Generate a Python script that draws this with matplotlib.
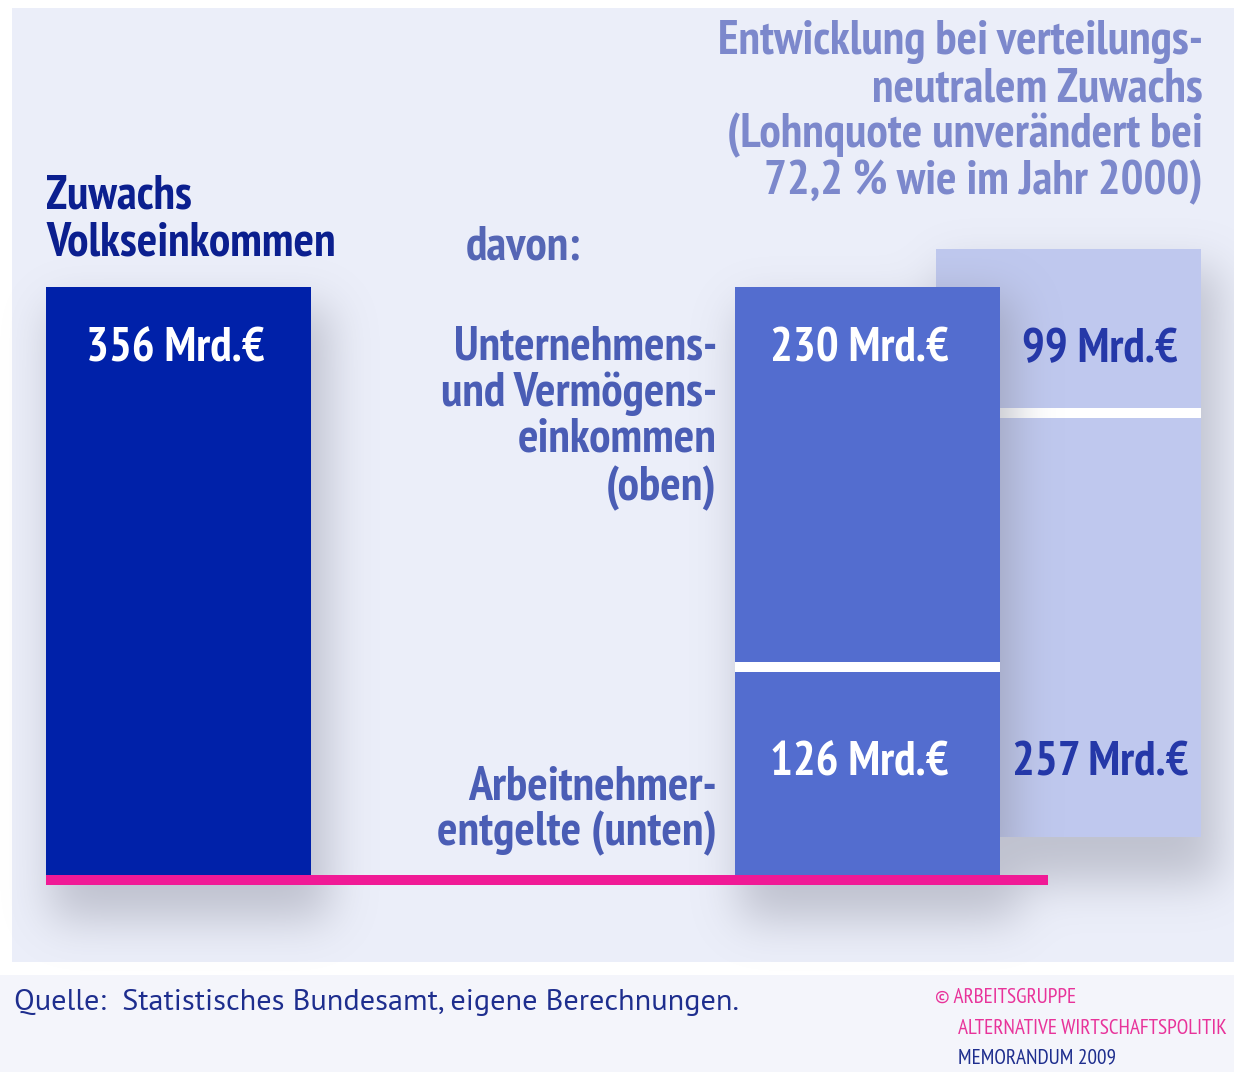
import numpy as np
import matplotlib.pyplot as plt
from matplotlib.patches import Rectangle
from matplotlib import font_manager

# Daten (Mrd. Euro)
total = 356                 # Zuwachs Volkseinkommen
actual_top = 230            # Unternehmens- und Vermögenseinkommen
actual_bottom = 126         # Arbeitnehmerentgelte
neutral_top = 99            # bei verteilungsneutralem Zuwachs
neutral_bottom = 257

W, H = 1234, 1072
SCALE = 588 / 356           # px pro Mrd.
BASE = 875                  # Pixelzeile der Grundlinie

names = {f.name for f in font_manager.fontManager.ttflist}


def pick(cands):
    for c in cands:
        if c in names:
            return c
    return 'DejaVu Sans'


narrow = pick(['PT Sans Narrow', 'Fira Sans Condensed', 'Roboto Condensed', 'Liberation Sans Narrow',
               'Liberation Sans'])
regular = pick(['PT Sans', 'Source Sans 3', 'Fira Sans', 'Liberation Sans'])

fig = plt.figure(figsize=(W / 100, H / 100), dpi=100)
fig.patch.set_facecolor('white')


def fx(x, y):
    return x / W, 1 - y / H


# Hintergrundflächen
fig.patches.append(Rectangle(fx(12, 962), (W - 12) / W, 954 / H, transform=fig.transFigure,
                             facecolor='#ebeef9', edgecolor='none', zorder=-2))
fig.patches.append(Rectangle(fx(0, H), 1, (H - 975) / H, transform=fig.transFigure,
                             facecolor='#f4f5fb', edgecolor='none', zorder=-2))

ax = fig.add_axes([0, 0, 1, 1])
ax.set_zorder(1)
ax.set_xlim(0, W)
ax.set_ylim((BASE - H) / SCALE, BASE / SCALE)
ax.axis('off')
ax.patch.set_visible(False)

width = 265
x1, x2, x3 = 46, 735, 936
lift = 23                   # Versatz des hinteren Balkens
ext = [0, W, (BASE - H) / SCALE, BASE / SCALE]

# weicher Schatten
sig = 22
k = np.exp(-0.5 * (np.arange(-3 * sig, 3 * sig + 1) / sig) ** 2)
k /= k.sum()


def rect_px(bx, val, off):
    return int(BASE - (val + off) * SCALE), int(BASE - off * SCALE), bx, bx + width


def blur(m):
    m = np.apply_along_axis(lambda r: np.convolve(r, k, mode='same'), 1, m)
    return np.apply_along_axis(lambda c: np.convolve(c, k, mode='same'), 0, m)


def shadow_img(alpha):
    img = np.zeros((H, W, 4))
    img[..., :3] = np.array([0x8a, 0x8c, 0x9c]) / 255
    img[..., 3] = alpha
    return img


mask = np.zeros((H, W))
for bx, val, off in [(x1, total, 0), (x2, total, 0), (x3, total, lift)]:
    t, b, l, r = rect_px(bx, val, off)
    mask[t + 20:min(b + 45, H), l + 5:min(r + 18, W)] = 1.0
ax.imshow(shadow_img(blur(mask) * 0.45), extent=ext, aspect='auto', zorder=1,
          interpolation='bilinear')

# Schatten des vorderen Balkens auf dem hinteren
m2 = np.zeros((H, W))
t, b, l, r = rect_px(x2, total, 0)
m2[t + 10:b, l:r + 12] = 1.0
m3 = np.zeros((H, W))
t, b, l, r = rect_px(x3, total, lift)
m3[t:b, l:r] = 1.0
ax.imshow(shadow_img(blur(m2) * m3 * 0.55), extent=ext, aspect='auto', zorder=2.7,
          interpolation='bilinear')

sep_lw = 10 * 72 / 100

# hinterer Balken (verteilungsneutral)
ax.bar(x3, neutral_bottom, width, bottom=lift, align='edge', color='#bfc8ee', zorder=2)
ax.bar(x3, neutral_top, width, bottom=lift + neutral_bottom, align='edge', color='#bfc8ee', zorder=2)
ax.hlines(lift + neutral_bottom, x3, x3 + width, color='white', lw=sep_lw, zorder=2.5)

# Gesamtbalken
ax.bar(x1, total, width, align='edge', color='#0021a9', zorder=3)

# tatsächliche Aufteilung
ax.bar(x2, actual_bottom, width, align='edge', color='#536dcf', zorder=3)
ax.bar(x2, actual_top, width, bottom=actual_bottom, align='edge', color='#536dcf', zorder=3)
ax.hlines(actual_bottom, x2, x2 + width, color='white', lw=sep_lw, zorder=3.5)

# rosa Grundlinie
ax.add_patch(Rectangle((x1, -6), 1048 - x1, 6, facecolor='#f01a96', edgecolor='none', zorder=4))


def txt(x, y, s, size=34.5, color='white', ha='left', weight='bold', fam=narrow):
    fig.text(*fx(x, y), s, fontsize=size, color=color, ha=ha, va='center',
             fontweight=weight, family=[fam, 'DejaVu Sans'])


# Überschriften
txt(46, 197, 'Zuwachs', color='#0b1f8f')
txt(46, 244, 'Volkseinkommen', color='#0b1f8f')
txt(466, 248, 'davon:', color='#5566b5')
for y, s in zip([42, 89, 135, 182], ['Entwicklung bei verteilungs-', 'neutralem Zuwachs',
                                     '(Lohnquote unverändert bei', '72,2 % wie im Jahr 2000)']):
    txt(1203, y, s, color='#7c88cc', ha='right')

for y, s in zip([347, 394, 440, 488], ['Unternehmens-', 'und Vermögens-', 'einkommen', '(oben)']):
    txt(717, y, s, color='#4a5db5', ha='right')
for y, s in zip([787, 833], ['Arbeitnehmer-', 'entgelte (unten)']):
    txt(717, y, s, color='#4a5db5', ha='right')

# Werte
txt(x1 + width / 2 - 3, 350, f'{total} Mrd.€', ha='center')
txt(x2 + width / 2 - 8, 350, f'{actual_top} Mrd.€', ha='center')
txt(x2 + width / 2 - 8, 763, f'{actual_bottom} Mrd.€', ha='center')
txt(1100, 350, f'{neutral_top} Mrd.€', color='#2538a8', ha='center')
txt(1100, 763, f'{neutral_bottom} Mrd.€', color='#2538a8', ha='center')

# Fußzeile
txt(14, 1003, 'Quelle:  Statistisches Bundesamt, eigene Berechnungen.', size=21.8,
    color='#1e2e8e', weight='normal', fam=regular)
txt(935, 997, '© ARBEITSGRUPPE', size=15.3, color='#e8339a', weight='normal')
txt(958, 1028, 'ALTERNATIVE WIRTSCHAFTSPOLITIK', size=15.3, color='#e8339a', weight='normal')
txt(958, 1058, 'MEMORANDUM 2009', size=15.3, color='#1e2e8e', weight='normal')

fig.savefig('out.png', dpi=100)
